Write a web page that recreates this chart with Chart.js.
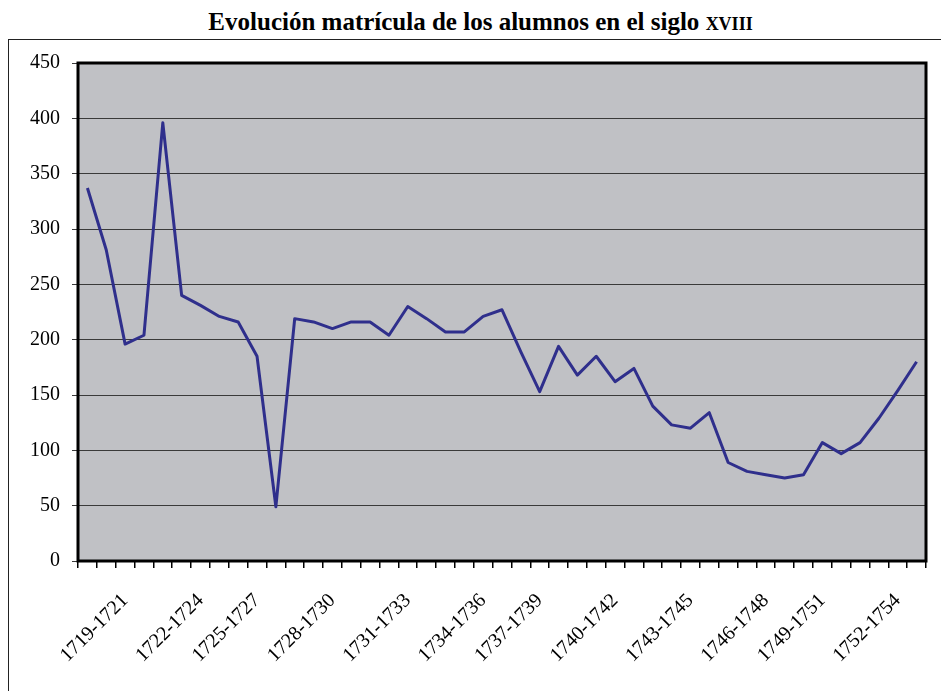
<!DOCTYPE html>
<html lang="es">
<head>
<meta charset="UTF-8">
<title>Evolución matrícula</title>
<script src="https://cdn.jsdelivr.net/npm/chart.js"></script>
<style>
  body { margin: 0; background: #fff; overflow: hidden; }
  #title {
    position: absolute; left: 10px; top: 8px; width: 941px;
    text-align: center; font: bold 25px "Liberation Serif", serif; color: #000;
  }
  #title span { font-variant: small-caps; }
  #frame {
    position: absolute; left: 8px; top: 39px; width: 1000px; height: 700px;
    border-left: 1px solid #222; border-top: 1px solid #222;
  }
  #wrap { position: absolute; left: 0; top: 0; width: 941px; height: 691px; }
</style>
</head>
<body>
<div id="title">Evolución matrícula de los alumnos en el siglo <span>xviii</span></div>
<div id="frame"></div>
<div id="wrap"><canvas id="chart"></canvas></div>
<script>
// matricula por curso (45 registros)
const alumnos = [337, 281, 196, 204, 396, 240, 231, 221, 216, 185,
                 49, 219, 216, 210, 216, 216, 204, 230, 219, 207,
                 207, 221, 227, 189, 153, 194, 168, 185, 162, 174,
                 140, 123, 120, 134, 89, 81, 78, 75, 78, 107,
                 97, 107, 129, 154, 180];

// rotulos visibles del eje x y el registro en que aparecen
const tickLabels = ['1719-1721', '1722-1724', '1725-1727', '1728-1730', '1731-1733', '1734-1736',
                    '1737-1739', '1740-1742', '1743-1745', '1746-1748', '1749-1751', '1752-1754'];
const tickAt = [2, 6, 9, 13, 17, 21, 24, 28, 32, 36, 39, 43];

const yTicks = [0, 50, 100, 150, 200, 250, 300, 350, 400, 450];

const categories = alumnos.map(() => '');
tickAt.forEach((idx, i) => { categories[idx] = tickLabels[i]; });

const plotFrame = {
  id: 'plotFrame',
  beforeDraw(chart) {
    const a = chart.chartArea, c = chart.ctx;
    c.save();
    c.fillStyle = '#c0c1c5';
    c.fillRect(a.left, a.top, a.right - a.left, a.bottom - a.top);
    c.restore();
  },
  afterDraw(chart) {
    const a = chart.chartArea, c = chart.ctx;
    c.save();
    c.strokeStyle = '#000';
    c.lineWidth = 3;
    c.strokeRect(a.left, a.top, a.right - a.left, a.bottom - a.top);
    c.restore();
  }
};

const serif = '"Liberation Serif", serif';

new Chart(document.getElementById('chart'), {
  type: 'line',
  data: {
    labels: categories,
    datasets: [{
      data: alumnos,
      borderColor: '#2f2f8c',
      borderWidth: 3,
      borderJoinStyle: 'round',
      pointRadius: 0,
      tension: 0,
      fill: false
    }]
  },
  options: {
    responsive: true,
    maintainAspectRatio: false,
    animation: false,
    layout: { padding: { top: 63, right: 15, left: 0, bottom: 0 } },
    plugins: { legend: { display: false }, tooltip: { enabled: false } },
    scales: {
      x: {
        offset: true,
        afterFit: (s) => { s.height = 130; s.paddingLeft = 0; s.paddingRight = 0; },
        grid: { offset: true, drawOnChartArea: false, drawTicks: true, tickLength: 7, color: '#000', lineWidth: 1.5 },
        border: { display: false },
        ticks: {
          autoSkip: false, minRotation: 45, maxRotation: 45, padding: 21,
          color: '#000', font: { family: serif, size: 20 }
        }
      },
      y: {
        min: 0, max: 450,
        afterFit: (s) => { s.width = 78; },
        afterBuildTicks: (s) => { s.ticks = yTicks.map(v => ({ value: v })); },
        grid: { color: '#3a3a3a', lineWidth: 1, tickLength: 6, drawTicks: true },
        border: { display: false },
        ticks: { padding: 12, color: '#000', font: { family: serif, size: 20 } }
      }
    }
  },
  plugins: [plotFrame]
});
</script>
</body>
</html>
